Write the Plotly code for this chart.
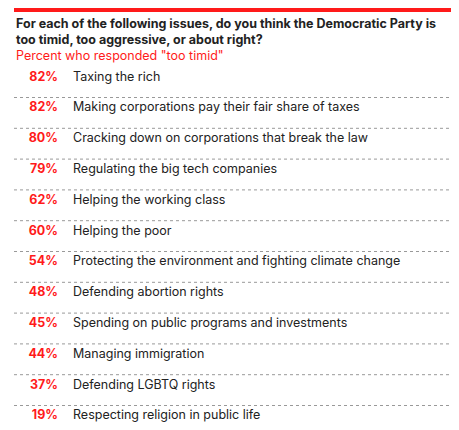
import plotly.graph_objects as go

issues = ["Taxing the rich", "Making corporations pay their fair share of taxes",
          "Cracking down on corporations that break the law", "Regulating the big tech companies",
          "Helping the working class", "Helping the poor",
          "Protecting the environment and fighting climate change", "Defending abortion rights",
          "Spending on public programs and investments", "Managing immigration",
          "Defending LGBTQ rights", "Respecting religion in public life"]
pct = [82, 82, 80, 79, 62, 60, 54, 48, 45, 44, 37, 19]

W, H = 459, 430
y0, step = 69.5, 30.8
ys = [y0 + i * step for i in range(len(issues))]
RED = "#ff1a1a"
FONT = "Inter, Roboto, sans-serif"

fig = go.Figure()
fig.add_trace(go.Scatter(x=[50] * len(pct), y=ys, mode="text",
                         text=[f"<b>{p}%</b>" for p in pct], textposition="middle left",
                         textfont=dict(family=FONT, size=12.5, color=RED), hoverinfo="skip"))
fig.add_trace(go.Scatter(x=[65] * len(issues), y=ys, mode="text", text=issues,
                         textposition="middle right",
                         textfont=dict(family=FONT, size=12.5, color="#222"), hoverinfo="skip"))

shapes = [dict(type="line", x0=6, x1=453, y0=2, y1=2, line=dict(color=RED, width=4))]
for y in ys:
    shapes.append(dict(type="line", x0=6, x1=453, y0=y + 20, y1=y + 20,
                       line=dict(color="#999", width=1, dash="dot")))

ann = [
    dict(x=6, y=23, text="<b>For each of the following issues, do you think the Democratic Party is<br>too timid, too aggressive, or about right?</b>",
         xanchor="left", yanchor="middle", align="left", showarrow=False,
         font=dict(family=FONT, size=12.5, color="#222")),
    dict(x=6, y=47, text='Percent who responded "too timid"', xanchor="left", yanchor="middle",
         showarrow=False, font=dict(family=FONT, size=12.5, color=RED)),
]

fig.update_layout(width=W, height=H, margin=dict(l=0, r=0, t=0, b=0),
                  paper_bgcolor="white", plot_bgcolor="white", showlegend=False,
                  xaxis=dict(range=[0, W], visible=False, fixedrange=True),
                  yaxis=dict(range=[H, 0], visible=False, fixedrange=True),
                  shapes=shapes, annotations=ann)
fig.write_html("out.html")
